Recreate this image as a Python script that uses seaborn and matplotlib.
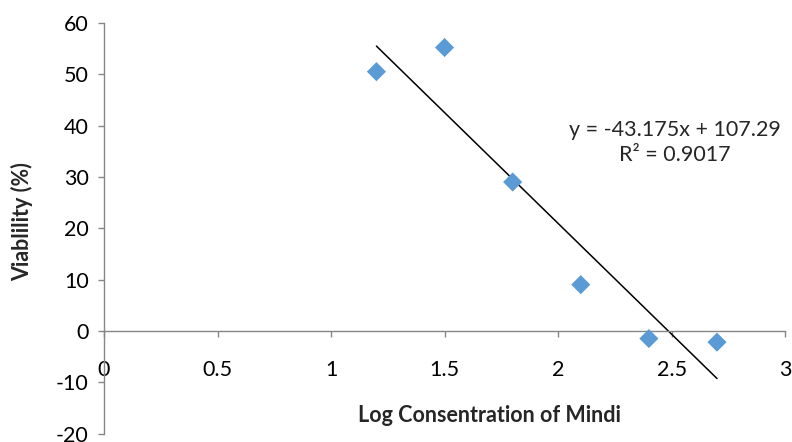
import numpy as np
import pandas as pd
import matplotlib
matplotlib.use('Agg')
import matplotlib.pyplot as plt
import seaborn as sns

# Data
log_conc = [1.2, 1.5, 1.8, 2.1, 2.4, 2.7]
viability = [50.5, 55.2, 29.0, 9.0, -1.5, -2.2]
slope = -43.175
intercept = 107.29
r_squared = 0.9017
x_ticks = [0, 0.5, 1, 1.5, 2, 2.5, 3]
y_ticks = [-20, -10, 0, 10, 20, 30, 40, 50, 60]

df = pd.DataFrame({'x': log_conc, 'y': viability})
trend = pd.DataFrame({'x': [min(log_conc), max(log_conc)]})
trend['y'] = slope * trend['x'] + intercept

sns.set_theme(style='white')
plt.rcParams['font.family'] = ['Lato', 'DejaVu Sans']
plt.rcParams['axes.unicode_minus'] = False

fig = plt.figure(figsize=(7.92, 4.42), dpi=100)
ax = fig.add_axes([0.1313, 0.0192, 0.86, 0.929])

sns.scatterplot(data=df, x='x', y='y', marker='D', s=95, color='#5B9BD5',
                edgecolor='none', ax=ax, zorder=3)
sns.lineplot(data=trend, x='x', y='y', color='black', linewidth=1.1, ax=ax, zorder=2)

ax.set_xlim(0, 3)
ax.set_ylim(-20, 60)
ax.set_xticks(x_ticks)
ax.set_xticklabels(['0', '0.5', '1', '1.5', '2', '2.5', '3'])
ax.set_yticks(y_ticks)
ax.set_xlabel('')
ax.set_ylabel('')

gray = '#868686'
for s in ['top', 'right']:
    ax.spines[s].set_visible(False)
ax.spines['bottom'].set_position(('data', 0))
ax.spines['bottom'].set_color(gray)
ax.spines['left'].set_color(gray)
ax.spines['bottom'].set_linewidth(1.0)
ax.spines['left'].set_linewidth(1.0)
ax.tick_params(axis='both', which='major', direction='out', length=4, width=1,
               color=gray, labelsize=15.5, labelcolor='black')
ax.tick_params(axis='x', pad=17, bottom=True)
ax.tick_params(axis='y', pad=7, left=True)

ax.text(2.515, 36.7, f'y = {slope}x + {intercept}\nR² = {r_squared}',
        ha='center', va='center', fontsize=15.5, linespacing=1.35)

fig.text(0.618, 0.061, 'Log Consentration of Mindi', ha='center', va='center',
         fontsize=15.5, fontweight='bold')
fig.text(0.028, 0.498, 'Viablility (%)', ha='center', va='center',
         rotation=90, fontsize=15.5, fontweight='bold')

fig.savefig('out.png', dpi=100)
